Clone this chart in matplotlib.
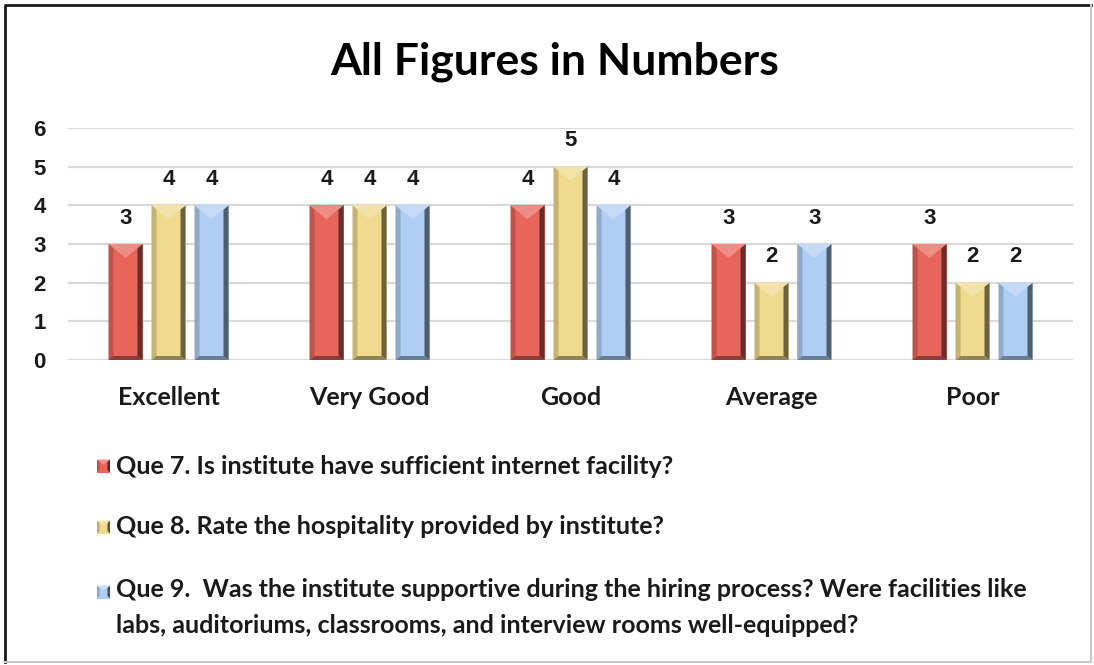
import matplotlib
matplotlib.use("Agg")
import matplotlib.pyplot as plt
from matplotlib.patches import Polygon, Rectangle
from matplotlib.lines import Line2D
from matplotlib.colors import to_rgb
import numpy as np

categories = ["Excellent", "Very Good", "Good", "Average", "Poor"]
que7 = [3, 4, 4, 3, 3]
que8 = [4, 4, 5, 2, 2]
que9 = [4, 4, 4, 3, 2]
series_labels = [
    "Que 7. Is institute have sufficient internet facility?",
    "Que 8. Rate the hospitality provided by institute?",
    "Que 9.  Was the institute supportive during the hiring process? Were facilities like\nlabs, auditoriums, classrooms, and interview rooms well-equipped?",
]
yticks = [0, 1, 2, 3, 4, 5, 6]

series = [que7, que8, que9]
face_colors = ["#E8655C", "#EFDA8E", "#B0CEF3"]

W, H = 1094, 665
fig = plt.figure(figsize=(W / 100, H / 100), dpi=100)
fig.patch.set_facecolor("white")

ax = fig.add_axes([68 / W, 1 - 360 / H, (1073 - 68) / W, (360 - 128) / H])
ax.set_xlim(-0.5, len(categories) - 0.5)
ax.set_ylim(0, 6)
for s in ax.spines.values():
    s.set_visible(False)
ax.set_yticks(yticks)
ax.yaxis.grid(True, color="#D9D9D9", lw=1.6)
ax.set_axisbelow(True)
ax.tick_params(axis="both", length=0)
ax.set_yticklabels([str(t) for t in yticks], fontfamily="Liberation Sans",
                   fontweight="bold", fontsize=16, color="#1a1a1a")
ax.tick_params(axis="y", pad=16)
ax.set_xticks(range(len(categories)))
ax.set_xticklabels(categories, fontfamily="Lato", fontweight="bold", fontsize=18,
                   color="#1a1a1a")
ax.tick_params(axis="x", pad=19)

# pixel -> data conversion for the bevel sizes
px_x = (len(categories)) / (1073 - 68)
px_y = 6 / (360 - 128)

def mix(c, other, t):
    a = np.array(to_rgb(c)); b = np.array(to_rgb(other))
    return tuple(a * (1 - t) + b * t)

def bevel(axis, x0, x1, y0, y1, color, bx, by, ch, z=3):
    xc = (x0 + x1) / 2
    # left face
    axis.add_patch(Polygon([(x0, y0), (x0 + bx, y0 + by), (x0 + bx, y1 - by), (x0, y1)],
                           closed=True, fc=mix(color, "black", 0.18), ec="none", zorder=z))
    # right face
    axis.add_patch(Polygon([(x1, y0), (x1 - bx, y0 + by), (x1 - bx, y1 - by), (x1, y1)],
                           closed=True, fc=mix(color, "black", 0.55), ec="none", zorder=z))
    # bottom face
    axis.add_patch(Polygon([(x0, y0), (x1, y0), (x1 - bx, y0 + by), (x0 + bx, y0 + by)],
                           closed=True, fc=mix(color, "black", 0.40), ec="none", zorder=z))
    # top chevron highlight
    axis.add_patch(Polygon([(x0, y1), (x1, y1), (xc, y1 - ch)],
                           closed=True, fc=mix(color, "white", 0.25), ec="none", zorder=z))

bar_w = 34 / 201
offset = 43 / 201
x = np.arange(len(categories))
for i, (vals, col) in enumerate(zip(series, face_colors)):
    xs = x + (i - 1) * offset
    bars = ax.bar(xs, vals, width=bar_w, color=col, zorder=2)
    for b, v in zip(bars, vals):
        x0 = b.get_x(); x1 = x0 + b.get_width()
        bevel(ax, x0, x1, 0, v, col, 5 * px_x, 4 * px_y, 14 * px_y)
        ax.annotate(str(v), (b.get_x() + b.get_width() / 2, v), xytext=(0, 11),
                    textcoords="offset points", ha="center", va="bottom",
                    fontfamily="Liberation Sans", fontweight="bold", fontsize=16,
                    color="#1a1a1a")

fig.text(555 / W, 1 - 62 / H, "All Figures in Numbers", ha="center", va="center",
         fontfamily="Lato", fontweight="bold", fontsize=32, color="black")

# legend entries
leg_y = [466, 527, 592]
for lab, col, yy in zip(series_labels, face_colors, leg_y):
    s = 13
    lx, ly = 97, yy
    fx0, fx1 = lx / W, (lx + s) / W
    fy0, fy1 = 1 - (ly + s / 2) / H, 1 - (ly - s / 2) / H
    fig.add_artist(Rectangle((fx0, fy0), fx1 - fx0, fy1 - fy0, transform=fig.transFigure,
                             fc=col, ec="none"))
    bx = 2.5 / W; by = 2.5 / H
    for poly, c in [
        ([(fx0, fy0), (fx0 + bx, fy0 + by), (fx0 + bx, fy1 - by), (fx0, fy1)], mix(col, "black", 0.2)),
        ([(fx1, fy0), (fx1 - bx, fy0 + by), (fx1 - bx, fy1 - by), (fx1, fy1)], mix(col, "black", 0.6)),
        ([(fx0, fy1), (fx1, fy1), ((fx0 + fx1) / 2, fy1 - 5 / H)], mix(col, "white", 0.3)),
    ]:
        fig.add_artist(Polygon(poly, closed=True, transform=fig.transFigure, fc=c, ec="none"))
    if "\n" in lab:
        fig.text(116 / W, 1 - (yy - 14) / H, lab, ha="left", va="top",
                 fontfamily="Lato", fontweight="bold", fontsize=18, color="#1a1a1a",
                 linespacing=1.7)
    else:
        fig.text(116 / W, 1 - yy / H, lab, ha="left", va="center",
                 fontfamily="Lato", fontweight="bold", fontsize=18, color="#1a1a1a")

# chart frame: dark left/top edges, faint right/bottom edges
fl, fr, ft, fb = 5 / W, 1091 / W, 1 - 5 / H, 1 - 662 / H
fig.add_artist(Line2D([fl, fl, fr], [fb, ft, ft], transform=fig.transFigure,
                      color="#1a1a1a", lw=2.0))
fig.add_artist(Line2D([fl, fr, fr], [fb, fb, ft], transform=fig.transFigure,
                      color="#C8C8C8", lw=1.5))

fig.savefig("out.png", dpi=100, facecolor="white")
